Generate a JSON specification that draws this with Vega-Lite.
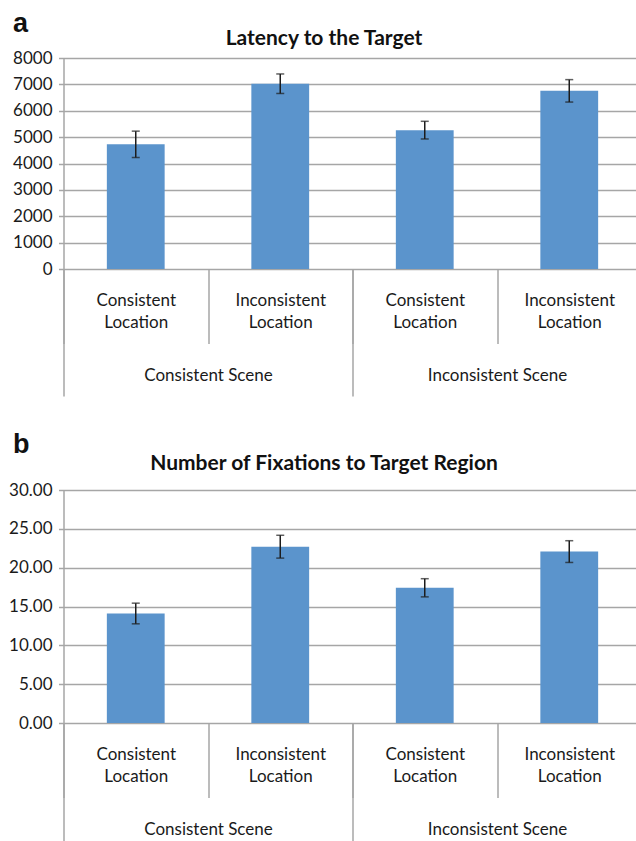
{
  "$schema": "https://vega.github.io/schema/vega-lite/v6.json",
  "padding": {"left": 8.5, "top": 9, "right": 0, "bottom": 0},
  "spacing": 33,
  "config": {
    "font": "Lato",
    "view": {"stroke": null},
    "axis": {
      "labelFontSize": 17,
      "labelColor": "#1a1a1a",
      "labelFont": "Lato",
      "gridColor": "#a6a6a6",
      "gridWidth": 1.5,
      "domainColor": "#a6a6a6",
      "domainWidth": 1.5,
      "tickColor": "#a6a6a6",
      "tickWidth": 1.5
    }
  },
  "datasets": {
    "latency": [
      {"cond": "Consistent Scene / Consistent Location", "scene": "Consistent Scene", "location": "Consistent Location", "latency": 4727, "err": 500},
      {"cond": "Consistent Scene / Inconsistent Location", "scene": "Consistent Scene", "location": "Inconsistent Location", "latency": 7025, "err": 370},
      {"cond": "Inconsistent Scene / Consistent Location", "scene": "Inconsistent Scene", "location": "Consistent Location", "latency": 5265, "err": 335},
      {"cond": "Inconsistent Scene / Inconsistent Location", "scene": "Inconsistent Scene", "location": "Inconsistent Location", "latency": 6755, "err": 425}
    ],
    "fixations": [
      {"cond": "Consistent Scene / Consistent Location", "scene": "Consistent Scene", "location": "Consistent Location", "fixations": 14.1, "err": 1.33},
      {"cond": "Consistent Scene / Inconsistent Location", "scene": "Consistent Scene", "location": "Inconsistent Location", "fixations": 22.7, "err": 1.47},
      {"cond": "Inconsistent Scene / Consistent Location", "scene": "Inconsistent Scene", "location": "Consistent Location", "fixations": 17.41, "err": 1.17},
      {"cond": "Inconsistent Scene / Inconsistent Location", "scene": "Inconsistent Scene", "location": "Inconsistent Location", "fixations": 22.07, "err": 1.4}
    ]
  },
  "vconcat": [
    {
      "width": 578,
      "height": 211,
      "data": {"name": "latency"},
      "layer": [
        {
          "encoding": {
            "x": {"field": "cond", "type": "nominal", "sort": null,
              "scale": {"type": "band", "paddingInner": 0, "paddingOuter": 0},
              "axis": {"orient": "bottom", "title": null, "labelAngle": 0,
                "labelExpr": "indexof(datum.label + '', ' / ') >= 0 ? split(split(datum.label, ' / ')[1], ' ') : ''",
                "tickBand": "extent", "tickSize": 74.5, "labelPadding": -51.5,
                "labelLineHeight": 22, "domain": false, "grid": false, "labelOverlap": false}},
            "y": {"field": "latency", "type": "quantitative",
              "scale": {"domain": [0, 8000], "nice": false},
              "axis": {"values": [0, 1000, 2000, 3000, 4000, 5000, 6000, 7000, 8000], "format": "d",
                "title": "a", "titleAngle": 0, "titleAlign": "left", "titleBaseline": "alphabetic",
                "titleX": -51, "titleY": -27, "titleFontSize": 27, "titleFontWeight": "bold",
                "titleFont": "Liberation Sans", "titleColor": "#111111",
                "tickSize": 5, "labelPadding": 6.5, "grid": true, "domain": true}}
          },
          "layer": [
            {"mark": {"type": "bar", "color": "#5b94cc", "width": {"band": 0.4}}},
            {"mark": {"type": "errorbar", "color": "#1c1c1c", "ticks": {"size": 8, "thickness": 1.5}, "rule": {"strokeWidth": 1.5}},
              "encoding": {"yError": {"field": "err"}}}
          ]
        },
        {
          "mark": {"type": "rule", "opacity": 0},
          "encoding": {
            "x": {"field": "scene", "type": "nominal", "sort": null,
              "scale": {"type": "band", "paddingInner": 0, "paddingOuter": 0},
              "axis": {"orient": "bottom", "labelAngle": 0,
                "tickBand": "extent", "tickSize": 127, "labelPadding": -29,
                "domain": false, "grid": false, "labelOverlap": false,
                "title": "Latency to the Target",
                "titleFont": "Lato", "titleFontSize": 21, "titleFontWeight": "bold", "titleColor": "#111111",
                "titleX": 260, "titleY": -231, "titleAlign": "center", "titleBaseline": "middle", "titleAngle": 0}}
          }
        }
      ],
      "resolve": {"scale": {"x": "independent"}, "axis": {"x": "independent"}}
    },
    {
      "width": 578,
      "height": 233,
      "data": {"name": "fixations"},
      "layer": [
        {
          "encoding": {
            "x": {"field": "cond", "type": "nominal", "sort": null,
              "scale": {"type": "band", "paddingInner": 0, "paddingOuter": 0},
              "axis": {"orient": "bottom", "title": null, "labelAngle": 0,
                "labelExpr": "indexof(datum.label + '', ' / ') >= 0 ? split(split(datum.label, ' / ')[1], ' ') : ''",
                "tickBand": "extent", "tickSize": 74.5, "labelPadding": -51.5,
                "labelLineHeight": 22, "domain": false, "grid": false, "labelOverlap": false}},
            "y": {"field": "fixations", "type": "quantitative",
              "scale": {"domain": [0, 30], "nice": false},
              "axis": {"values": [0, 5, 10, 15, 20, 25, 30], "format": ".2f",
                "title": "b", "titleAngle": 0, "titleAlign": "left", "titleBaseline": "alphabetic",
                "titleX": -51, "titleY": -38, "titleFontSize": 27, "titleFontWeight": "bold",
                "titleFont": "Liberation Sans", "titleColor": "#111111",
                "tickSize": 5, "labelPadding": 6.5, "grid": true, "domain": true}}
          },
          "layer": [
            {"mark": {"type": "bar", "color": "#5b94cc", "width": {"band": 0.4}}},
            {"mark": {"type": "errorbar", "color": "#1c1c1c", "ticks": {"size": 8, "thickness": 1.5}, "rule": {"strokeWidth": 1.5}},
              "encoding": {"yError": {"field": "err"}}}
          ]
        },
        {
          "mark": {"type": "rule", "opacity": 0},
          "encoding": {
            "x": {"field": "scene", "type": "nominal", "sort": null,
              "scale": {"type": "band", "paddingInner": 0, "paddingOuter": 0},
              "axis": {"orient": "bottom", "labelAngle": 0,
                "tickBand": "extent", "tickSize": 127, "labelPadding": -29,
                "domain": false, "grid": false, "labelOverlap": false,
                "title": "Number of Fixations to Target Region",
                "titleFont": "Lato", "titleFontSize": 21, "titleFontWeight": "bold", "titleColor": "#111111",
                "titleX": 260, "titleY": -260, "titleAlign": "center", "titleBaseline": "middle", "titleAngle": 0}}
          }
        }
      ],
      "resolve": {"scale": {"x": "independent"}, "axis": {"x": "independent"}}
    }
  ]
}
